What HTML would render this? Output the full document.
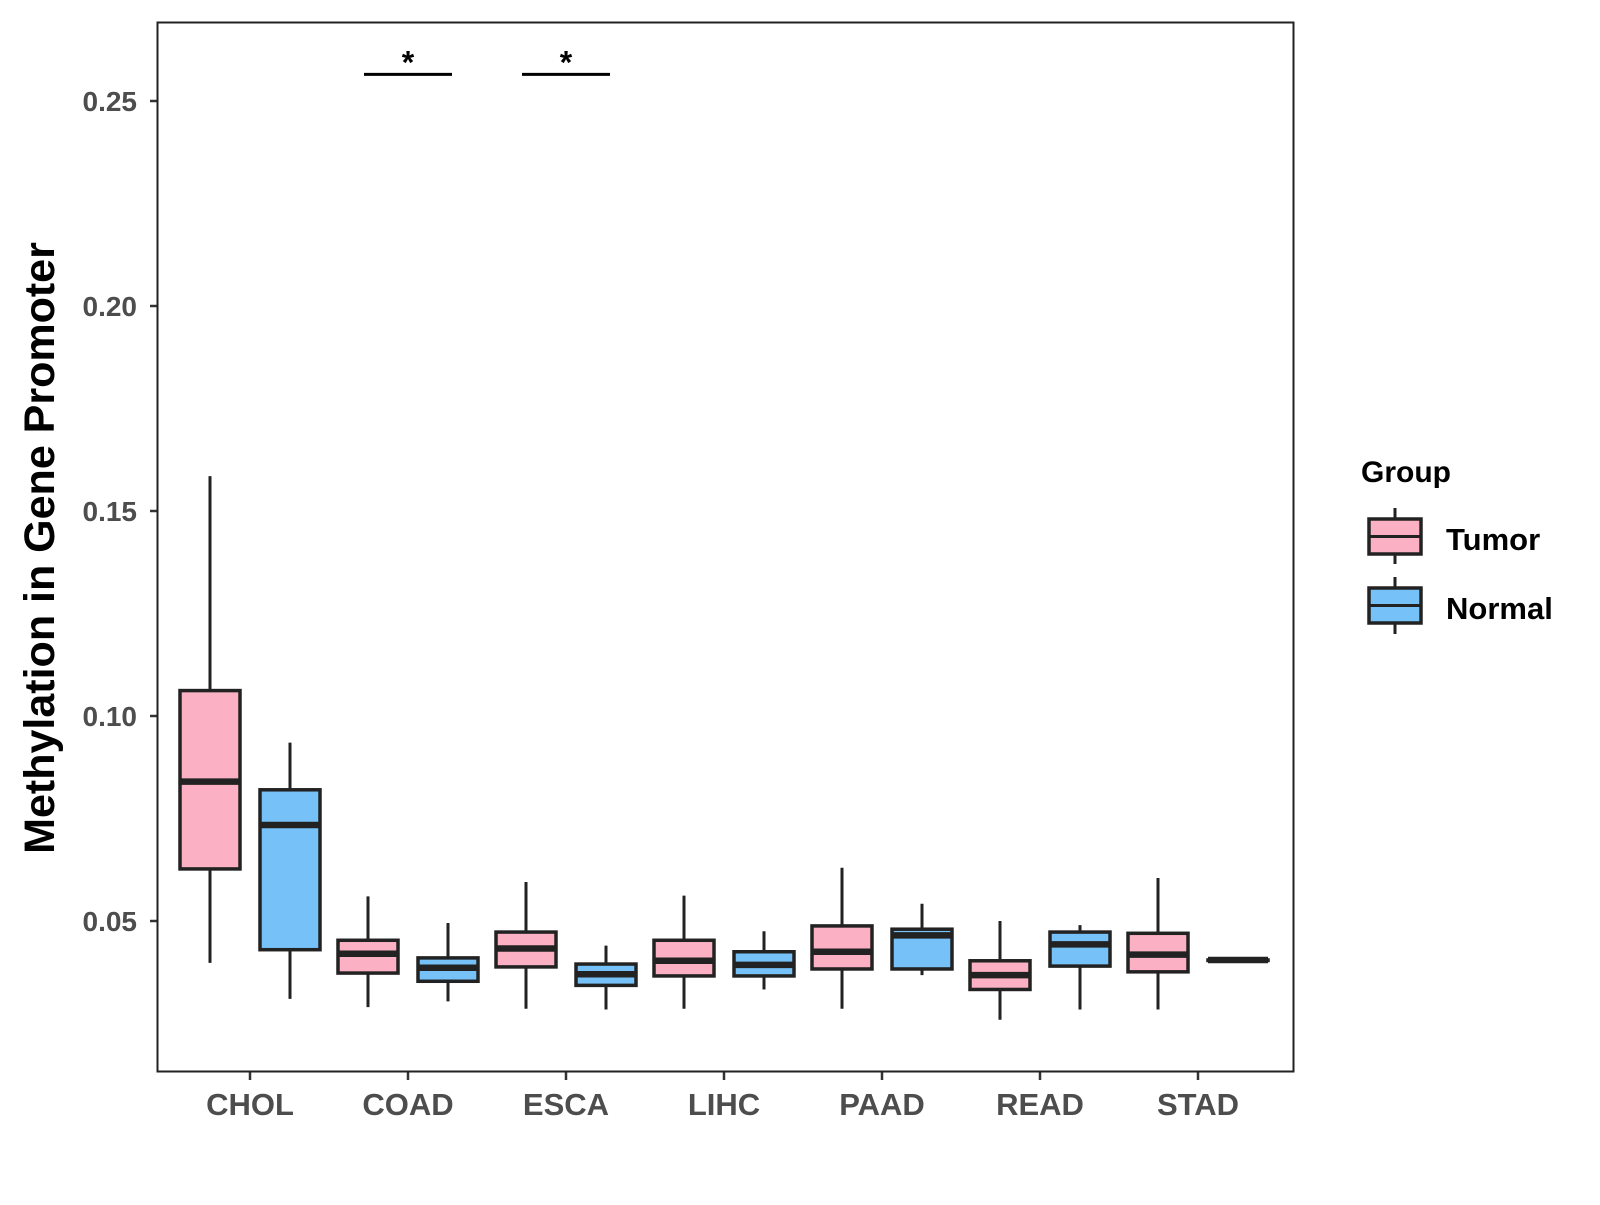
<!DOCTYPE html>
<html><head><meta charset="utf-8"><style>
body{margin:0;background:#fff;}
svg text{font-family:"Liberation Sans",sans-serif;font-weight:bold;}
</style></head><body>
<svg id="chart" width="1600" height="1200" viewBox="0 0 1600 1200" xmlns="http://www.w3.org/2000/svg">
<rect x="0" y="0" width="1600" height="1200" fill="#fff"/>
<g id="marks"></g>
<rect x="157.5" y="22.5" width="1136" height="1049" fill="none" stroke="#222" stroke-width="2"/>
<text transform="translate(54,548) rotate(-90)" text-anchor="middle" font-size="43" fill="#000">Methylation in Gene Promoter</text>
<g>
<text x="1361" y="482" font-size="30" fill="#000">Group</text>
<g>
<line x1="1395" y1="508" x2="1395" y2="564" stroke="#222" stroke-width="3"/>
<rect x="1369" y="519" width="52" height="35" fill="#FBB0C3" stroke="#222" stroke-width="3.5"/>
<line x1="1369" y1="536.5" x2="1421" y2="536.5" stroke="#222" stroke-width="3"/>
<text x="1446" y="550" font-size="31" fill="#000">Tumor</text>
</g>
<g>
<line x1="1395" y1="577" x2="1395" y2="634" stroke="#222" stroke-width="3"/>
<rect x="1369" y="588" width="52" height="35" fill="#76C2F8" stroke="#222" stroke-width="3.5"/>
<line x1="1369" y1="605.5" x2="1421" y2="605.5" stroke="#222" stroke-width="3"/>
<text x="1446" y="619" font-size="31" fill="#000">Normal</text>
</g>
</g>
</svg>
<script>
const categories = ["CHOL","COAD","ESCA","LIHC","PAAD","READ","STAD"];
const tumorLow  = [0.0398,0.0290,0.0286,0.0286,0.0286,0.0259,0.0284];
const tumorQ1   = [0.0627,0.0373,0.0388,0.0366,0.0383,0.0333,0.0376];
const tumorMed  = [0.0840,0.0420,0.0433,0.0403,0.0425,0.0368,0.0418];
const tumorQ3   = [0.1062,0.0453,0.0473,0.0453,0.0488,0.0403,0.0470];
const tumorHigh = [0.1585,0.0560,0.0595,0.0562,0.0630,0.0500,0.0605];
const normalLow  = [0.0310,0.0304,0.0284,0.0333,0.0368,0.0284,0.0405];
const normalQ1   = [0.0430,0.0353,0.0343,0.0366,0.0383,0.0390,0.0405];
const normalMed  = [0.0734,0.0386,0.0370,0.0393,0.0465,0.0443,0.0405];
const normalQ3   = [0.0820,0.0410,0.0395,0.0425,0.0480,0.0473,0.0405];
const normalHigh = [0.0935,0.0495,0.0440,0.0475,0.0542,0.0490,0.0405];
const yTicks = [0.05,0.10,0.15,0.20,0.25];
const yTickLabels = ["0.05","0.10","0.15","0.20","0.25"];
const sigCategories = ["COAD","ESCA"];
const sigLevel = 0.2565;

const NS="http://www.w3.org/2000/svg";
const g=document.getElementById('marks');
function yS(v){return 101+(0.25-v)*4100;}
function xS(i){return 250+i*158;}
function el(tag,attrs,parent){const e=document.createElementNS(NS,tag);for(const k in attrs)e.setAttribute(k,attrs[k]);(parent||g).appendChild(e);return e;}

yTicks.forEach((t,i)=>{
  const y=yS(t);
  const tk=el('line',{x1:150,x2:157,y1:y,y2:y,stroke:'#333','stroke-width':2.5});
  
  
  const tx=el('text',{x:137,y:y+10,'text-anchor':'end','font-size':28,fill:'#4d4d4d'});
  tx.textContent=yTickLabels[i];
  
  
});
categories.forEach((c,i)=>{
  const x=xS(i);
  const tk=el('line',{x1:x,x2:x,y1:1072,y2:1080,stroke:'#333','stroke-width':2.5});
  
  
  const tx=el('text',{x:x,y:1115,'text-anchor':'middle','font-size':31,fill:'#4d4d4d'});
  tx.textContent=c;
  
  
});
function box(cx,lo,q1,md,q3,hi,fill,name){
  const grp=el('g',{});
  
  
  const w=60;
  el('line',{x1:cx,x2:cx,y1:yS(hi),y2:yS(lo),stroke:'#222','stroke-width':3},grp);
  const top=yS(q3),bot=yS(q1);
  el('rect',{x:cx-w/2,y:top,width:w,height:Math.max(bot-top,0.5),fill:fill,stroke:'#222','stroke-width':3.5},grp);
  el('line',{x1:cx-w/2,x2:cx+w/2,y1:yS(md),y2:yS(md),stroke:'#222','stroke-width':6.5},grp);
}
categories.forEach((c,i)=>{
  box(xS(i)-40,tumorLow[i],tumorQ1[i],tumorMed[i],tumorQ3[i],tumorHigh[i],'#FBB0C3','box-tumor-'+c.toLowerCase());
  box(xS(i)+40,normalLow[i],normalQ1[i],normalMed[i],normalQ3[i],normalHigh[i],'#76C2F8','box-normal-'+c.toLowerCase());
});
sigCategories.forEach(c=>{
  const i=categories.indexOf(c);const x=xS(i);const y=yS(sigLevel);
  const ln=el('line',{x1:x-44,x2:x+44,y1:y,y2:y,stroke:'#000','stroke-width':3});
  
  
  const s=el('text',{x:x,y:y-1,'text-anchor':'middle','font-size':32,fill:'#000'});
  s.textContent='*';
  
  
});
</script>
</body></html>
